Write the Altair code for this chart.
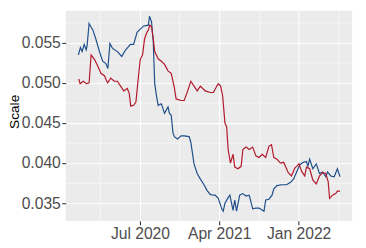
import altair as alt
import pandas as pd

blue_dates = ["2019-12-01","2019-12-08","2019-12-14","2019-12-21","2019-12-28","2019-12-31","2020-01-07","2020-01-13",
"2020-01-20","2020-01-30","2020-02-12","2020-02-23","2020-03-05","2020-03-12","2020-03-19","2020-03-28","2020-04-14",
"2020-04-29","2020-05-12","2020-05-29","2020-06-09","2020-06-21","2020-07-02","2020-07-14","2020-07-30","2020-08-03",
"2020-08-10","2020-08-16","2020-08-21","2020-08-27","2020-09-02","2020-09-13","2020-09-24","2020-10-06","2020-10-11",
"2020-10-17","2020-10-23","2020-10-28","2020-11-08","2020-11-20","2020-12-01","2020-12-18","2020-12-24","2021-01-04",
"2021-01-15","2021-01-26","2021-02-06","2021-02-18","2021-03-01","2021-03-12","2021-03-18","2021-03-29","2021-04-10",
"2021-04-15","2021-04-21","2021-05-02","2021-05-08","2021-05-19","2021-05-25","2021-05-31","2021-06-11","2021-06-22",
"2021-07-03","2021-07-14","2021-07-26","2021-08-06","2021-08-17","2021-09-03","2021-09-09","2021-09-20","2021-10-01",
"2021-10-07","2021-10-18","2021-11-03","2021-11-20","2021-12-04","2021-12-14","2021-12-25","2022-01-05","2022-01-17",
"2022-01-28","2022-02-02","2022-02-08","2022-02-19","2022-03-03","2022-03-14","2022-03-25","2022-04-05","2022-04-11",
"2022-04-22","2022-05-04","2022-05-15","2022-05-24"]
blue_values = [0.0535,0.0544,0.0539,0.0548,0.0541,0.0546,0.0574,0.0570,
0.0566,0.0555,0.0539,0.0527,0.0524,0.0518,0.0549,0.0543,0.0539,
0.0533,0.0541,0.0548,0.0548,0.0563,0.0567,0.0571,0.0572,0.0583,
0.0576,0.0551,0.0499,0.0484,0.0472,0.0474,0.0462,0.0470,0.0462,
0.0460,0.0438,0.0433,0.0430,0.0434,0.0434,0.0433,0.0426,0.0399,
0.0387,0.0380,0.0374,0.0366,0.0361,0.0360,0.0360,0.0356,0.0343,
0.0340,0.0350,0.0357,0.0360,0.0341,0.0354,0.0340,0.0360,0.0362,
0.0359,0.0360,0.0343,0.0344,0.0344,0.0340,0.0354,0.0355,0.0360,
0.0368,0.0372,0.0373,0.0373,0.0376,0.0380,0.0389,0.0398,0.0401,
0.0402,0.0396,0.0405,0.0393,0.0399,0.0387,0.0389,0.0383,0.0389,
0.0384,0.0383,0.0393,0.0383]

red_dates = ["2019-12-02","2019-12-07","2019-12-18","2019-12-29","2020-01-07","2020-01-14","2020-01-26","2020-02-06",
"2020-02-17","2020-02-29","2020-03-11","2020-03-22","2020-04-03","2020-04-14","2020-04-25","2020-05-06","2020-05-18",
"2020-05-25","2020-05-30","2020-06-09","2020-06-17","2020-06-24","2020-07-02","2020-07-10","2020-07-17","2020-07-25",
"2020-07-30","2020-08-04","2020-08-10","2020-08-16","2020-08-21","2020-09-02","2020-09-13","2020-09-24","2020-10-06",
"2020-10-17","2020-10-28","2020-11-03","2020-11-20","2020-12-01","2020-12-13","2020-12-24","2021-01-04","2021-01-15",
"2021-01-26","2021-02-12","2021-03-01","2021-03-12","2021-03-24","2021-03-29","2021-04-06","2021-04-13","2021-04-21",
"2021-04-27","2021-05-02","2021-05-10","2021-05-19","2021-05-25","2021-06-05","2021-06-16","2021-06-22","2021-07-03",
"2021-07-14","2021-07-26","2021-08-06","2021-08-17","2021-08-28","2021-09-09","2021-09-20","2021-09-29","2021-10-07",
"2021-10-18","2021-10-30","2021-11-10","2021-11-26","2021-12-07","2021-12-19","2021-12-25","2022-01-02","2022-01-11",
"2022-01-22","2022-01-28","2022-02-08","2022-02-19","2022-03-03","2022-03-14","2022-03-25","2022-04-05","2022-04-13",
"2022-04-18","2022-04-28","2022-05-09","2022-05-15","2022-05-24"]
red_values = [0.0505,0.0499,0.0502,0.0499,0.0500,0.0535,0.0529,0.0521,
0.0512,0.0509,0.0500,0.0506,0.0502,0.0502,0.0496,0.0490,0.0493,
0.0487,0.0471,0.0472,0.0476,0.0502,0.0529,0.0535,0.0555,0.0563,
0.0566,0.0572,0.0570,0.0555,0.0539,0.0530,0.0527,0.0523,0.0515,
0.0512,0.0494,0.0480,0.0478,0.0478,0.0490,0.0502,0.0496,0.0490,
0.0496,0.0490,0.0488,0.0488,0.0496,0.0499,0.0496,0.0484,0.0450,
0.0445,0.0417,0.0400,0.0411,0.0395,0.0393,0.0396,0.0417,0.0420,
0.0417,0.0420,0.0409,0.0407,0.0411,0.0407,0.0421,0.0423,0.0407,
0.0405,0.0400,0.0401,0.0388,0.0384,0.0394,0.0396,0.0399,0.0390,
0.0384,0.0395,0.0393,0.0379,0.0374,0.0384,0.0388,0.0387,0.0377,
0.0356,0.0360,0.0362,0.0365,0.0365]

x_major = ["2020-07-01", "2021-04-01", "2022-01-01"]
x_minor = ["2020-02-15", "2020-11-15", "2021-08-16", "2022-05-17"]
x_domain = ["2019-10-18", "2022-07-05"]
y_major = [0.035, 0.040, 0.045, 0.050, 0.055]
y_minor = [0.0375, 0.0425, 0.0475, 0.0525, 0.0575]
y_domain = [0.0328, 0.0590]


def ms(d):
    return int(pd.Timestamp(d, tz="UTC").timestamp() * 1000)


df = pd.DataFrame({
    "date": [ms(d) for d in blue_dates] + [ms(d) for d in red_dates],
    "value": blue_values + red_values,
    "series": ["A"] * len(blue_dates) + ["B"] * len(red_dates),
})

x_test = "utcdate(datum.value) == 1"
y_test = "abs(datum.value*200 - round(datum.value*200)) < 0.01"

x_axis = alt.Axis(
    values=[ms(d) for d in x_major + x_minor],
    labelExpr=f"{x_test} ? utcFormat(datum.value, '%b %Y') : ''",
    labelOverlap=False,
    title=None,
    gridWidth={"condition": {"test": x_test, "value": 1.1}, "value": 0.55},
    tickOpacity={"condition": {"test": x_test, "value": 1}, "value": 0},
    labelPadding=1,
)
y_axis = alt.Axis(
    values=y_major + y_minor,
    labelExpr=f"{y_test} ? format(datum.value, '.3f') : ''",
    labelOverlap=False,
    title="Scale",
    titleX=-52,
    titleY=103,
    titleBaseline="middle",
    titleAngle=270,
    titleAlign="center",
    gridWidth={"condition": {"test": y_test, "value": 1.1}, "value": 0.55},
    tickOpacity={"condition": {"test": y_test, "value": 1}, "value": 0},
    labelPadding=1.5,
)

chart = alt.Chart(df).mark_line(strokeWidth=1.2).encode(
    x=alt.X("date:T", scale=alt.Scale(type="utc", domain=[ms(d) for d in x_domain], nice=False), axis=x_axis),
    y=alt.Y("value:Q", scale=alt.Scale(domain=y_domain, nice=False, zero=False), axis=y_axis),
    color=alt.Color("series:N", scale=alt.Scale(domain=["A", "B"], range=["#1d4e89", "#b2182b"]), legend=None),
).properties(
    width=293, height=215,
    padding={"left": 59, "top": 0, "right": 6, "bottom": 25},
    autosize=alt.AutoSizeParams(type="none"),
).configure_view(
    fill="#EBEBEB", stroke=None
).configure_axis(
    domain=False,
    gridColor="#FFFFFF",
    tickColor="#333333",
    tickSize=4,
    tickWidth=1.1,
    labelFont="Liberation Sans",
    labelFontSize=16,
    labelColor="#4D4D4D",
    titleFont="Liberation Sans",
    titleFontSize=14,
    titleFontWeight="normal",
    titleColor="#000000",
)

chart.save("out.html", embed_options={"renderer": "svg", "actions": False})
